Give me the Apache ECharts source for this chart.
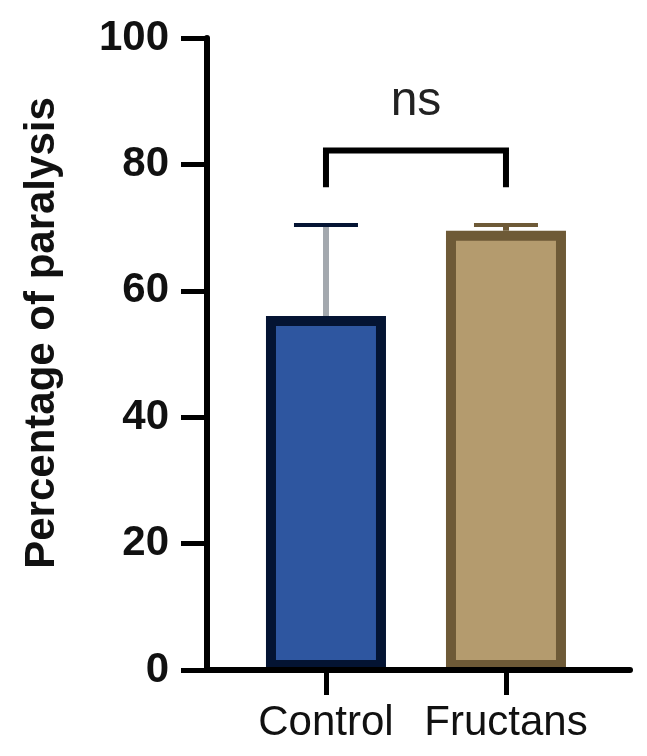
<!DOCTYPE html>
<html>
<head>
<meta charset="utf-8">
<script src="https://cdn.jsdelivr.net/npm/echarts@6/dist/echarts.min.js"></script>
<style>
  html, body { margin: 0; padding: 0; background: #fff; }
  #chart { width: 647px; height: 756px; }
</style>
</head>
<body>
<div id="chart"></div>
<script>
// data
var categories = ["Control", "Fructans"];
var means = [56.0, 69.5];
var errorsUp = [14.4, 0.9];
var fillColors = ["#2e56a0", "#b49b6e"];
var borderColors = ["#041433", "#6e5a37"];
var stemColors = ["#a3a8ae", "#6e5a37"];
var yTicks = [0, 20, 40, 60, 80, 100];

// significance bracket between the two groups
var bracketTop = 82.2;
var bracketLegBottom = 76.4;
var bracketText = "ns";
var bracketTextY = 89.9;

var positions = categories.map(function (c, i) { return i + 1; });

var chart = echarts.init(document.getElementById("chart"));

var option = {
  animation: false,
  grid: {
    left: 207,
    top: 38,
    width: 423,
    height: 632,
    containLabel: false,
    outerBoundsMode: "none"
  },
  xAxis: {
    type: "value",
    min: 0.339,
    max: 2.689,
    z: 5,
    splitLine: { show: false },
    axisLine: { show: true, lineStyle: { color: "#000", width: 6 } },
    axisTick: {
      show: true,
      customValues: positions,
      length: 25,
      lineStyle: { color: "#000", width: 5 }
    },
    axisLabel: {
      customValues: positions,
      margin: 32,
      fontFamily: "Liberation Sans",
      fontSize: 42,
      color: "#111",
      formatter: function (v) {
        return categories[Math.round(v) - 1] || "";
      }
    }
  },
  yAxis: {
    type: "value",
    min: 0,
    max: 100,
    interval: 20,
    z: 5,
    splitLine: { show: false },
    axisLine: { show: true, lineStyle: { color: "#000", width: 6 } },
    axisTick: { show: true, length: 26, lineStyle: { color: "#000", width: 5 } },
    axisLabel: {
      margin: 38,
      fontFamily: "Liberation Sans",
      fontWeight: "bold",
      fontSize: 42,
      color: "#111",
      formatter: function (v) {
        return yTicks.indexOf(v) >= 0 ? String(v) : "";
      }
    },
    name: "Percentage of paralysis",
    nameLocation: "middle",
    nameGap: 144,
    nameTextStyle: {
      fontFamily: "Liberation Sans",
      fontWeight: "bold",
      fontSize: 42,
      color: "#111",
      padding: [0, 0, 0, 42]
    }
  },
  series: [
    {
      // upper error bars, under the bars
      type: "custom",
      z: 1,
      data: positions.map(function (x, i) {
        return [x, means[i], means[i] + errorsUp[i], i];
      }),
      renderItem: function (params, api) {
        var i = api.value(3);
        var base = api.coord([api.value(0), api.value(1)]);
        var top = api.coord([api.value(0), api.value(2)]);
        return {
          type: "group",
          children: [
            {
              type: "line",
              shape: { x1: base[0], y1: base[1], x2: top[0], y2: top[1] },
              style: { stroke: stemColors[i], lineWidth: 6 }
            },
            {
              type: "line",
              shape: { x1: top[0] - 32, y1: top[1], x2: top[0] + 32, y2: top[1] },
              style: { stroke: borderColors[i], lineWidth: 4 }
            }
          ]
        };
      }
    },
    {
      type: "bar",
      z: 2,
      barWidth: 120,
      data: positions.map(function (x, i) {
        return {
          value: [x, means[i]],
          itemStyle: {
            color: fillColors[i],
            borderColor: borderColors[i],
            borderWidth: 10
          }
        };
      })
    },
    {
      // significance bracket
      type: "custom",
      z: 3,
      data: [[positions[0], positions[1], bracketTop, bracketLegBottom, bracketTextY]],
      renderItem: function (params, api) {
        var a = api.coord([api.value(0), api.value(2)]);
        var b = api.coord([api.value(1), api.value(2)]);
        var legA = api.coord([api.value(0), api.value(3)]);
        var legB = api.coord([api.value(1), api.value(3)]);
        var t = api.coord([(api.value(0) + api.value(1)) / 2, api.value(4)]);
        return {
          type: "group",
          children: [
            {
              type: "polyline",
              shape: { points: [legA, a, b, legB] },
              style: { stroke: "#000", lineWidth: 6, fill: null, lineJoin: "miter" }
            },
            {
              type: "text",
              x: t[0],
              y: t[1],
              style: {
                text: bracketText,
                fontFamily: "Liberation Sans",
                fontSize: 48,
                fill: "#222",
                align: "center",
                verticalAlign: "middle"
              }
            }
          ]
        };
      }
    }
  ]
};

chart.setOption(option);
</script>
</body>
</html>
